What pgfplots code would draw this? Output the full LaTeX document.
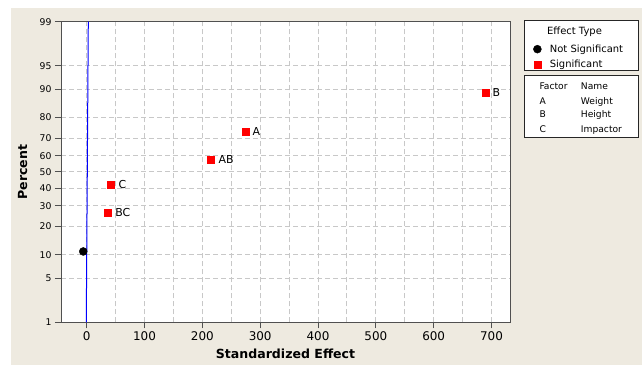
\documentclass[border=0pt]{standalone}
\usepackage{pgfplots}
\usepackage{pgfplotstable}
\pgfplotsset{compat=1.18}
\usepackage{fontspec}
\setmainfont{DejaVu Sans}
\definecolor{beige}{RGB}{238,234,224}
\definecolor{axgray}{RGB}{80,80,80}
\definecolor{gridgray}{RGB}{200,200,200}
\definecolor{sigred}{RGB}{255,0,0}
\definecolor{fitblue}{RGB}{0,0,255}
\pgfplotsset{dotlegend/.style={legend image code/.code={\draw[##1] plot coordinates {(0bp,0bp)};}}}

% y = normal quantile of the plotting percent (i-0.3)/(n+0.4), n = 6
% percents: 10.94, 26.56, 42.19, 57.81, 73.44, 89.06
\pgfplotstableread{
x z
-5.9 -1.2299
}\nonsigtab

\pgfplotstableread{
x z label
36.3 -0.6261 BC
42 -0.1971 C
215 0.1971 AB
274 0.6261 A
689 1.2299 B
}\sigtab

\begin{document}
\begin{tikzpicture}
\path[fill=white] (0,0) rectangle (642bp,365bp);
\useasboundingbox (0,0) rectangle (642bp,365bp);
\fill[beige] (11bp,0) rectangle (642bp,357bp);
% legend boxes
\draw[black!85, line width=1bp, fill=white] (524bp,294bp) rectangle (638bp,344bp);
\draw[black!85, line width=1bp, fill=white] (524bp,227bp) rectangle (638bp,289bp);
\node[font=\fontsize{10}{12}\selectfont, inner sep=0pt, anchor=base] at (574.5bp,330bp) {Effect Type};
\begin{scope}[every node/.style={font=\fontsize{9.2}{11}\selectfont, inner sep=0pt, anchor=base west}]
\node at (539.3bp,275.6bp) {Factor};
\node at (580.7bp,275.6bp) {Name};
\node at (539.3bp,260.6bp) {A};
\node at (580.7bp,260.6bp) {Weight};
\node at (539.3bp,247.3bp) {B};
\node at (580.7bp,247.3bp) {Height};
\node at (539.3bp,232.3bp) {C};
\node at (580.7bp,232.3bp) {Impactor};
\end{scope}
\begin{axis}[
  at={(61bp,42.7bp)}, anchor=south west,
  scale only axis, width=449bp, height=300.6bp,
  xmin=-44.4, xmax=732, ymin=-2.3263, ymax=2.3263,
  xtick={0,100,...,700}, minor xtick={50,150,...,650},
  ytick={-2.3263,-1.6449,-1.2816,-0.8416,-0.5244,-0.2533,0,0.2533,0.5244,0.8416,1.2816,1.6449,2.3263},
  yticklabels={1,5,10,20,30,40,50,60,70,80,90,95,99},
  xmajorgrids, xminorgrids, ymajorgrids,
  major grid style={gridgray, dash pattern=on 5bp off 3bp, line width=1bp},
  minor grid style={gridgray, dash pattern=on 5bp off 3bp, line width=1bp},
  axis line style={axgray, line width=1bp},
  tick style={axgray, line width=1bp},
  tick align=outside, major tick length=6bp, minor tick length=0pt,
  xtick pos=left, ytick pos=left,
  axis background/.style={fill=white},
  /pgf/number format/assume math mode=true,
  xticklabel style={font=\fontsize{12}{14}\selectfont, black},
  yticklabel style={font=\fontsize{9.3}{11}\selectfont, black},
  xlabel={Standardized Effect}, ylabel={Percent},
  label style={font=\bfseries\fontsize{12.6}{15}\selectfont},
  xlabel style={at={(axis description cs:0.5,-0.1055)}, anchor=center},
  ylabel style={at={(axis description cs:-0.0857,0.5)}, anchor=center},
  legend style={draw=none, fill=none, at={(axis description cs:1.0450,0.931)}, anchor=north west,
    font=\fontsize{10}{12}\selectfont, nodes={inner sep=0pt}, column sep=8.5bp, row sep=6.6bp},
  legend cell align=left,
]
\addplot[fitblue, line width=1bp, forget plot] coordinates {(-0.7,-2.3263) (2.8,2.3263)};
\addplot[only marks, mark=*, mark size=4bp, mark options={draw=black, fill=black, line width=0.4bp, solid}, dotlegend]
  table[x=x, y=z] {\nonsigtab};
\addlegendentry{Not Significant}
\addplot[only marks, mark=square*, mark size=3.5bp, mark options={draw=sigred, fill=sigred, line width=0.2bp, solid}, dotlegend,
  nodes near coords, point meta=explicit symbolic,
  every node near coord/.append style={anchor=west, black, inner sep=0pt, xshift=7.5bp, font=\fontsize{11}{13}\selectfont}]
  table[x=x, y=z, meta=label] {\sigtab};
\addlegendentry{Significant}
\end{axis}
\end{tikzpicture}
\end{document}
